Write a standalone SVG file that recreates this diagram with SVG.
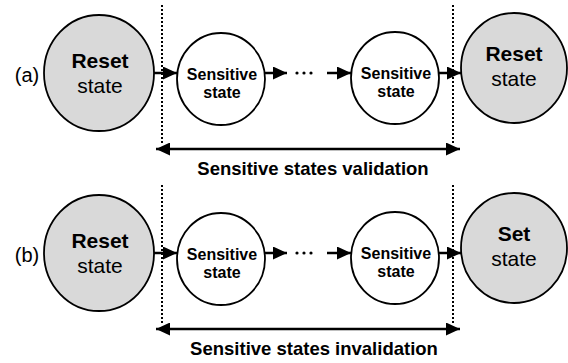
<svg xmlns="http://www.w3.org/2000/svg" width="568" height="363" viewBox="0 0 568 363">
  <defs>
    <marker id="head" markerUnits="userSpaceOnUse" markerWidth="14" markerHeight="13" refX="14" refY="6.5" orient="auto-start-reverse">
      <path d="M0,0 L14,6.5 L0,13 Z" fill="#000"/>
    </marker>
    <style>
      .big { fill: #d9d9d9; stroke: #000; stroke-width: 1.8; }
      .small { fill: #fff; stroke: #000; stroke-width: 1.8; }
      .t-b { font-family: "Liberation Sans", Arial, sans-serif; font-weight: bold; text-anchor: middle; fill: #000; }
      .t-r { font-family: "Liberation Sans", Arial, sans-serif; text-anchor: middle; fill: #000; }
      .big-t { font-size: 21px; }
      .small-t { font-size: 16px; }
      .cap { font-size: 18.5px; }
      .link { stroke: #000; stroke-width: 2.5; fill: none; marker-end: url(#head); }
      .span { stroke: #000; stroke-width: 2.5; fill: none; marker-start: url(#head); marker-end: url(#head); }
      .border { stroke: #000; stroke-width: 2; stroke-dasharray: 2 2; fill: none; }
    </style>
  </defs>

  <!-- row (a): reset to reset -->
  <text class="t-r" x="27" y="82" font-size="20">(a)</text>
  <g id="a-reset-start">
    <ellipse class="big" cx="99" cy="73" rx="55" ry="58"/>
    <text class="t-b big-t" x="100" y="68">Reset</text>
    <text class="t-r big-t" x="100" y="93">state</text>
  </g>
  <g id="a-sensitive-1">
    <ellipse class="small" cx="221" cy="79" rx="44" ry="46"/>
    <text class="t-b small-t" x="222" y="80">Sensitive</text>
    <text class="t-b small-t" x="222" y="98">state</text>
  </g>
  <g id="a-sensitive-n">
    <ellipse class="small" cx="395" cy="78" rx="44" ry="46"/>
    <text class="t-b small-t" x="396" y="79">Sensitive</text>
    <text class="t-b small-t" x="396" y="97">state</text>
  </g>
  <g id="a-reset-end">
    <ellipse class="big" cx="514" cy="68" rx="53" ry="55"/>
    <text class="t-b big-t" x="514" y="61">Reset</text>
    <text class="t-r big-t" x="514" y="86">state</text>
  </g>

  <!-- row (b): reset to set -->
  <text class="t-r" x="27" y="262" font-size="20">(b)</text>
  <g id="b-reset">
    <ellipse class="big" cx="99" cy="253" rx="55" ry="58"/>
    <text class="t-b big-t" x="100" y="248">Reset</text>
    <text class="t-r big-t" x="100" y="273">state</text>
  </g>
  <g id="b-sensitive-1">
    <ellipse class="small" cx="221" cy="259" rx="44" ry="46"/>
    <text class="t-b small-t" x="222" y="260">Sensitive</text>
    <text class="t-b small-t" x="222" y="278">state</text>
  </g>
  <g id="b-sensitive-n">
    <ellipse class="small" cx="395" cy="258" rx="44" ry="46"/>
    <text class="t-b small-t" x="396" y="259">Sensitive</text>
    <text class="t-b small-t" x="396" y="277">state</text>
  </g>
  <g id="b-set">
    <ellipse class="big" cx="514" cy="248" rx="53" ry="55"/>
    <text class="t-b big-t" x="514" y="241">Set</text>
    <text class="t-r big-t" x="514" y="266">state</text>
  </g>

  <g id="connectors">
    <!-- row (a) -->
    <line class="link" x1="154" y1="73" x2="177" y2="73"/>
    <line class="link" x1="265" y1="73" x2="287" y2="73"/>
    <circle cx="297" cy="73" r="1.6"/>
    <circle cx="304" cy="73" r="1.6"/>
    <circle cx="311" cy="73" r="1.6"/>
    <line class="link" x1="327" y1="73" x2="351" y2="73"/>
    <line class="link" x1="439" y1="73" x2="461" y2="73"/>
    <!-- row (b) -->
    <line class="link" x1="154" y1="253" x2="177" y2="253"/>
    <line class="link" x1="265" y1="253" x2="287" y2="253"/>
    <circle cx="297" cy="253" r="1.6"/>
    <circle cx="304" cy="253" r="1.6"/>
    <circle cx="311" cy="253" r="1.6"/>
    <line class="link" x1="327" y1="253" x2="351" y2="253"/>
    <line class="link" x1="439" y1="253" x2="461" y2="253"/>

    <!-- window borders -->
    <line class="border" x1="162" y1="5" x2="162" y2="143"/>
    <line class="border" x1="453" y1="5" x2="453" y2="143"/>
    <line class="border" x1="162" y1="185" x2="162" y2="323"/>
    <line class="border" x1="453" y1="185" x2="453" y2="323"/>

    <!-- window spans -->
    <line class="span" x1="156" y1="149" x2="460" y2="149"/>
    <line class="span" x1="156" y1="329" x2="460" y2="329"/>
  </g>

  <text class="t-b cap" x="313" y="175">Sensitive states validation</text>
  <text class="t-b cap" x="314" y="355">Sensitive states invalidation</text>
</svg>
